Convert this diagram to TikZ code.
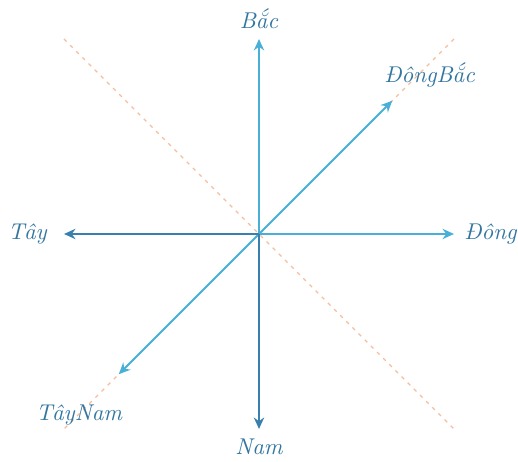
\documentclass[tikz,border=0pt]{standalone}
\usepackage{fontspec}
\usepackage{tikz}
\usetikzlibrary{arrows.meta,positioning}
\definecolor{dirlight}{RGB}{72,176,216}
\definecolor{dirdark}{RGB}{56,128,174}
\definecolor{dirtext}{RGB}{50,118,160}
\definecolor{guide}{RGB}{246,190,155}

\begin{document}
\begin{tikzpicture}[x=1cm,y=1cm,
	dir/.style={line width=0.9pt,-{Stealth[length=5pt,width=4.5pt]}},
	lbl/.style={text=dirtext,font=\itshape}]
	\useasboundingbox (-3.985,-3.508) rectangle (3.985,3.6);
	\coordinate (O) at (0,0);
	% guide lines
	\foreach \a in {45,135,225,315} \coordinate (g\a) at (\a:4.243);
	\draw[guide,line width=0.6pt,dash pattern=on 1.6pt off 2.2pt] (g135) -- (g315);
	\draw[guide,line width=0.6pt,dash pattern=on 1.6pt off 2.2pt] (g45) -- (g225);
	% tips
	\foreach \n/\a/\r in {N/90/3,S/270/3,E/0/3,W/180/3,NE/45/2.9,SW/225/3.05} \coordinate (\n) at (\a:\r);
	\foreach \n/\c in {N/dirlight,E/dirlight,NE/dirlight,SW/dirlight,S/dirdark,W/dirdark} \draw[dir,\c] (O) -- (\n);
	% labels
	\node[lbl, above=1pt of N] (lN) {Bắc};
	\node[lbl, below=1pt of S] (lS) {Nam};
	\node[lbl, right=1pt of E] (lE) {Đông};
	\node[lbl, left=4pt of W] (lW) {Tây};
	\node[lbl, above right=2.5pt and -7pt of NE] (lNE) {ĐôngBắc};
	\node[lbl, below left=10pt and -5pt of SW] (lSW) {TâyNam};
\end{tikzpicture}
\end{document}
